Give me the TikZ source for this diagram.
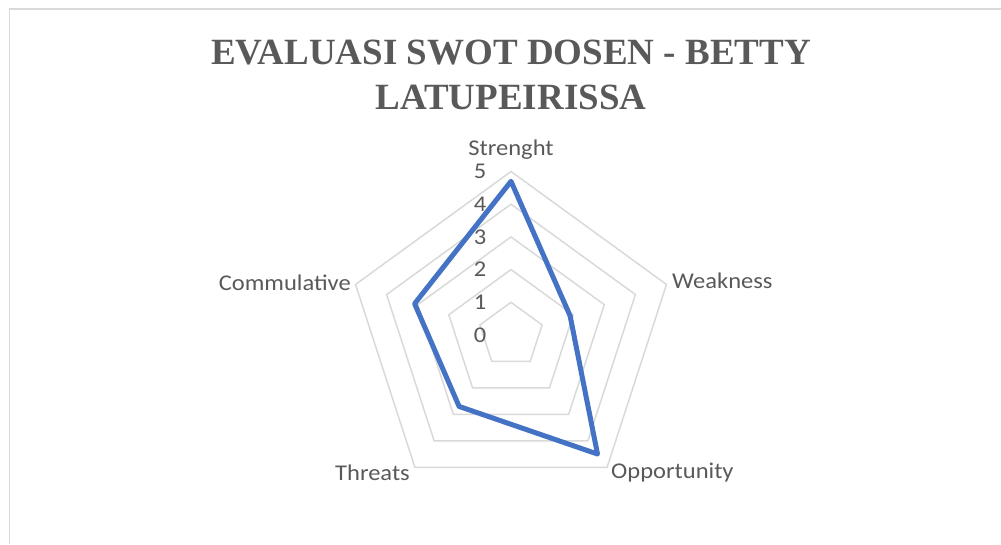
\documentclass[tikz,border=0pt]{standalone}
\usepackage{fontspec}
\setmainfont{Liberation Serif}
\newfontfamily\chartfont[FakeStretch=1.09]{Carlito}
\usetikzlibrary{positioning}
\definecolor{gridgray}{HTML}{D9D9D9}
\definecolor{textgray}{HTML}{595959}
\definecolor{seriesblue}{HTML}{4472C4}

\begin{document}
\begin{tikzpicture}[x=1pt,y=1pt,
  gridline/.style={gridgray,line width=1.5pt,line join=miter},
  series/.style={seriesblue,line width=5pt,line join=round},
  axislabel/.style={text=textgray,font=\chartfont\fontsize{22.5}{26}\selectfont,inner sep=0pt},
  ticklabel/.style={text=textgray,font=\chartfont\fontsize{22.5}{26}\selectfont,inner sep=0pt}]
\newcommand*{\unitr}{32.7}
\useasboundingbox (0,0) rectangle (1001,544);
\draw[gridgray,line width=1.5pt] (9.5,0) -- (9.5,535) -- (1001,535);

\node[text=textgray,align=center,font=\bfseries\fontsize{37}{45}\selectfont] (title) at (511,469.5)
  {EVALUASI SWOT DOSEN - BETTY\\LATUPEIRISSA};

\begin{scope}[shift={(511,209)}]
  \foreach \lvl in {1,...,5}
  {
    \draw[gridline] (90:{\lvl*\unitr}) -- (18:{\lvl*\unitr}) -- (-54:{\lvl*\unitr})
      -- (-126:{\lvl*\unitr}) -- (162:{\lvl*\unitr}) -- cycle;
  }
  \foreach \lvl in {0,...,5}
    \node[ticklabel] (tick\lvl) at (-31,{\lvl*\unitr}) {\lvl};

  \foreach \ang/\val [count=\i] in {90/4.7,18/1.9,-54/4.5,-126/2.7,162/3.1}
    \coordinate (pt\i) at (\ang:{\val*\unitr});
  \draw[series] (pt1) -- (pt2) -- (pt3) -- (pt4) -- (pt5) -- cycle;

  \node[axislabel] (strenght) at (0,185) {Strenght};
  \node[axislabel,anchor=west] (weakness) at (161,54) {Weakness};
  \node[axislabel,anchor=west] (opportunity) at (100,-138) {Opportunity};
  \node[axislabel,anchor=east] (threats) at (-101,-138) {Threats};
  \node[axislabel,anchor=east] (commulative) at (-160,52) {Commulative};
\end{scope}
\end{tikzpicture}
\end{document}
